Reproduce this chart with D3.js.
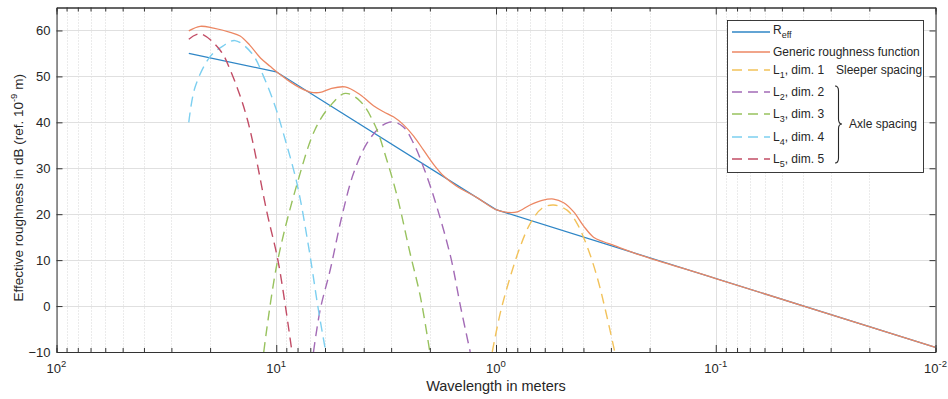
<!DOCTYPE html>
<html>
<head>
<meta charset="utf-8">
<script src="https://cdn.jsdelivr.net/npm/d3@7"></script>
<style>
  body { margin: 0; background: #fff; }
  text { font-family: "Liberation Sans", Arial, Helvetica, sans-serif; fill: #262626; }
</style>
</head>
<body>
<svg id="chart" width="948" height="399"></svg>
<script>
// --- data (wavelength in m, level in dB) ---
var reffLambda = [25, 10, 1, 0.01];
var reffDb     = [55, 51, 21, -9];

var genericLambda = [25, 22.2, 19.3, 16.2, 14.6, 13.2, 11.8, 10.66, 9.6, 8.64, 7.79, 7.02, 6.31, 5.68, 4.86,
                     4.15, 3.61, 3.25, 2.93, 2.64, 2.37, 2.14, 1.92, 1.73, 1.51, 1.22, 1.0, 0.89, 0.80, 0.70,
                     0.617, 0.547, 0.492, 0.443, 0.399, 0.36, 0.324, 0.291, 0.22, 0.1, 0.01];
var genericDb     = [59.9, 60.9, 60.5, 59.6, 58.8, 56.8, 54.0, 52.2, 50.4, 48.8, 47.5, 46.6, 46.5, 47.3, 47.7,
                     46.0, 43.6, 42.3, 41.2, 39.5, 37.0, 34.0, 30.8, 28.3, 26.1, 23.6, 21.0, 20.4, 20.5, 22.0,
                     23.0, 23.3, 22.5, 20.5, 17.4, 15.0, 14.0, 13.2, 11.1, 6.0, -9.0];

var l1Lambda = [1.04, 0.956, 0.861, 0.775, 0.698, 0.617, 0.547, 0.475, 0.428, 0.385, 0.347, 0.318, 0.288];
var l1Db     = [-10, -1.5, 6.4, 13.0, 18.0, 21.3, 22.0, 20.9, 18.0, 13.0, 6.4, -0.8, -10];

var l2Lambda = [6.77, 6.31, 5.68, 5.03, 4.45, 3.87, 3.36, 2.98, 2.64, 2.37, 2.14, 1.92, 1.61, 1.45, 1.31];
var l2Db     = [-10, -0.8, 7.9, 19.5, 28.9, 35.4, 39.0, 40.1, 39.0, 35.4, 30.3, 23.8, 10.8, -0.1, -10];

var l3Lambda = [11.4, 9.94, 8.05, 6.65, 5.68, 4.86, 4.15, 3.55, 3.14, 2.82, 2.46, 2.21, 2.0];
var l3Db     = [-10, 9.0, 26.5, 38.5, 43.6, 46.3, 44.6, 39.3, 31.8, 24.0, 11.5, 2.1, -10];

var l4Lambda = [25, 23.4, 20.0, 17.5, 15.4, 12.9, 11.4, 10.1, 9.28, 8.05, 7.13, 6.43, 5.95];
var l4Db     = [40, 47.7, 54.3, 56.6, 57.8, 55.0, 49.9, 43.4, 37.6, 26.7, 13.0, -0.8, -10];

var l5Lambda = [25, 22.2, 18.0, 16.2, 13.6, 11.0, 9.77, 8.48];
var l5Db     = [58.1, 59.3, 55.7, 51.4, 41.0, 20.2, 9.35, -10];

var xTicks   = [100, 10, 1, 0.1, 0.01];
var xTickExp = ["2", "1", "0", "-1", "-2"];
var yTicks   = [-10, 0, 10, 20, 30, 40, 50, 60];

var plotLeft = 56.5, plotRight = 935.5, plotTop = 7.5, plotBottom = 352;

var svg = d3.select("#chart");

var x = d3.scaleLog().domain([100, 0.01]).range([plotLeft, plotRight]);
var y = d3.scaleLinear().domain([-10, 65]).range([plotBottom, plotTop]);

// minor tick values 2..9 x 10^k
var minorTicks = [];
[0.01, 0.1, 1, 10].forEach(function(base) {
  d3.range(2, 10).forEach(function(m) { minorTicks.push(base * m); });
});

// grid
var grid = svg.append("g").attr("class", "grid");
grid.selectAll("line.minor")
    .data(minorTicks)
  .enter().append("line")
    .attr("x1", function(d) { return Math.round(x(d)) + 0.5; })
    .attr("x2", function(d) { return Math.round(x(d)) + 0.5; })
    .attr("y1", plotTop).attr("y2", plotBottom)
    .attr("stroke", "#d6d6d6")
    .attr("stroke-dasharray", "1,2");
grid.selectAll("line.majorx")
    .data(xTicks)
  .enter().append("line")
    .attr("x1", function(d) { return Math.round(x(d)) + 0.5; })
    .attr("x2", function(d) { return Math.round(x(d)) + 0.5; })
    .attr("y1", plotTop).attr("y2", plotBottom)
    .attr("stroke", "#e0e0e0");
grid.selectAll("line.majory")
    .data(yTicks)
  .enter().append("line")
    .attr("x1", plotLeft).attr("x2", plotRight)
    .attr("y1", function(d) { return Math.round(y(d)) + 0.5; })
    .attr("y2", function(d) { return Math.round(y(d)) + 0.5; })
    .attr("stroke", "#e0e0e0");

// curves
svg.append("clipPath").attr("id", "clip")
  .append("rect").attr("x", plotLeft).attr("y", plotTop)
    .attr("width", plotRight - plotLeft).attr("height", plotBottom - plotTop);

var plot = svg.append("g").attr("clip-path", "url(#clip)");

function pairs(lams, dbs) {
  return lams.map(function(l, i) { return [l, dbs[i]]; });
}

var straight = d3.line()
    .x(function(d) { return x(d[0]); })
    .y(function(d) { return y(d[1]); });

var smooth = d3.line()
    .curve(d3.curveCatmullRom.alpha(0.5))
    .x(function(d) { return x(d[0]); })
    .y(function(d) { return y(d[1]); });

var series = [
  {name: "R", sub: "eff", rest: "", data: pairs(reffLambda, reffDb), color: "#2f86c6", dash: null, line: straight},
  {name: "Generic roughness function", sub: "", rest: "", data: pairs(genericLambda, genericDb), color: "#ec8763", dash: null, line: smooth},
  {name: "L", sub: "1", rest: ", dim. 1", data: pairs(l1Lambda, l1Db), color: "#f2c25a", dash: "10,6", line: smooth},
  {name: "L", sub: "2", rest: ", dim. 2", data: pairs(l2Lambda, l2Db), color: "#a36bb6", dash: "10,6", line: smooth},
  {name: "L", sub: "3", rest: ", dim. 3", data: pairs(l3Lambda, l3Db), color: "#98c25e", dash: "10,6", line: smooth},
  {name: "L", sub: "4", rest: ", dim. 4", data: pairs(l4Lambda, l4Db), color: "#7ccff0", dash: "10,6", line: smooth},
  {name: "L", sub: "5", rest: ", dim. 5", data: pairs(l5Lambda, l5Db), color: "#c24d66", dash: "10,6", line: smooth}
];

plot.selectAll("path.series")
    .data(series)
  .enter().append("path")
    .attr("class", "series")
    .attr("d", function(d) { return d.line(d.data); })
    .attr("fill", "none")
    .attr("stroke", function(d) { return d.color; })
    .attr("stroke-width", function(d) { return d.dash ? 1.4 : 1.3; })
    .attr("stroke-dasharray", function(d) { return d.dash; });

// axes (ticks pointing inward, box on)
var axisColor = "#333";
function styleAxis(g) {
  g.select(".domain").attr("stroke", axisColor);
  g.selectAll(".tick line").attr("stroke", axisColor);
}

svg.append("g").attr("transform", "translate(0," + plotBottom + ")")
    .call(d3.axisBottom(x).tickValues(minorTicks).tickSize(-4).tickFormat(""))
    .call(styleAxis);
svg.append("g").attr("transform", "translate(0," + plotBottom + ")")
    .call(d3.axisBottom(x).tickValues(xTicks).tickSizeInner(-7).tickSizeOuter(0).tickFormat(""))
    .call(styleAxis);
svg.append("g").attr("transform", "translate(0," + plotTop + ")")
    .call(d3.axisTop(x).tickValues(minorTicks).tickSize(-4).tickFormat(""))
    .call(styleAxis);
svg.append("g").attr("transform", "translate(0," + plotTop + ")")
    .call(d3.axisTop(x).tickValues(xTicks).tickSizeInner(-7).tickSizeOuter(0).tickFormat(""))
    .call(styleAxis);

var yAxis = svg.append("g").attr("transform", "translate(" + plotLeft + ",0)")
    .call(d3.axisLeft(y).tickValues(yTicks).tickSizeInner(-6).tickSizeOuter(0).tickPadding(6))
    .call(styleAxis);
yAxis.selectAll(".tick text").attr("font-size", 13).attr("font-family", null);
svg.append("g").attr("transform", "translate(" + plotRight + ",0)")
    .call(d3.axisRight(y).tickValues(yTicks).tickSizeInner(-6).tickSizeOuter(0).tickFormat(""))
    .call(styleAxis);

// x tick labels as 10^k
var xLabels = svg.append("g").selectAll("text")
    .data(xTicks)
  .enter().append("text")
    .attr("x", function(d) { return x(d); })
    .attr("y", plotBottom + 21)
    .attr("text-anchor", "middle")
    .attr("font-size", 13);
xLabels.append("tspan").text("10");
xLabels.append("tspan")
    .attr("dy", -6)
    .attr("font-size", 9.5)
    .text(function(d, i) { return xTickExp[i]; });

// axis titles
svg.append("text")
    .attr("x", (plotLeft + plotRight) / 2)
    .attr("y", 391)
    .attr("text-anchor", "middle")
    .attr("font-size", 14.5)
    .text("Wavelength in meters");

var yTitle = svg.append("text")
    .attr("transform", "translate(23," + ((plotTop + plotBottom) / 2 + 8) + ") rotate(-90)")
    .attr("text-anchor", "middle")
    .attr("font-size", 13.5);
yTitle.append("tspan").text("Effective roughness in dB (ref. 10");
yTitle.append("tspan").attr("dy", -6).attr("font-size", 9.5).text("-9");
yTitle.append("tspan").attr("dy", 6).text(" m)");

// legend
var legendRows = [30, 52, 70, 92, 114, 137, 159];
var legend = svg.append("g");
legend.append("rect")
    .attr("x", 727.5).attr("y", 20.5).attr("width", 196).attr("height", 152)
    .attr("fill", "#fff").attr("stroke", "#262626").attr("stroke-width", 0.9);

var entry = legend.selectAll("g.entry")
    .data(series)
  .enter().append("g")
    .attr("class", "entry")
    .attr("transform", function(d, i) { return "translate(0," + legendRows[i] + ")"; });
entry.append("line")
    .attr("x1", 732).attr("x2", 770)
    .attr("y1", function(d, i) { return i === 0 ? 2 : 0; })
    .attr("y2", function(d, i) { return i === 0 ? 2 : 0; })
    .attr("stroke", function(d) { return d.color; })
    .attr("stroke-width", function(d) { return d.dash ? 1.4 : 1.3; })
    .attr("stroke-dasharray", function(d) { return d.dash; });
var entryText = entry.append("text")
    .attr("x", 773).attr("y", 4)
    .attr("font-size", 12);
entryText.append("tspan").text(function(d) { return d.name; });
entryText.append("tspan")
    .attr("dy", 4).attr("font-size", 9)
    .text(function(d) { return d.sub; });
entryText.append("tspan")
    .attr("dy", -4)
    .text(function(d) { return d.rest; });

legend.append("text")
    .attr("x", 836).attr("y", legendRows[2] + 4)
    .attr("font-size", 12)
    .text("Sleeper spacing");
legend.append("text")
    .attr("x", 849).attr("y", 128)
    .attr("font-size", 12)
    .text("Axle spacing");
legend.append("path")
    .attr("d", "M835,86 Q838.5,86 838.5,91 L838.5,119 Q838.5,124 842,124 Q838.5,124 838.5,129 L838.5,158 Q838.5,163 835,163")
    .attr("fill", "none")
    .attr("stroke", "#262626")
    .attr("stroke-width", 1.1);
</script>
</body>
</html>
